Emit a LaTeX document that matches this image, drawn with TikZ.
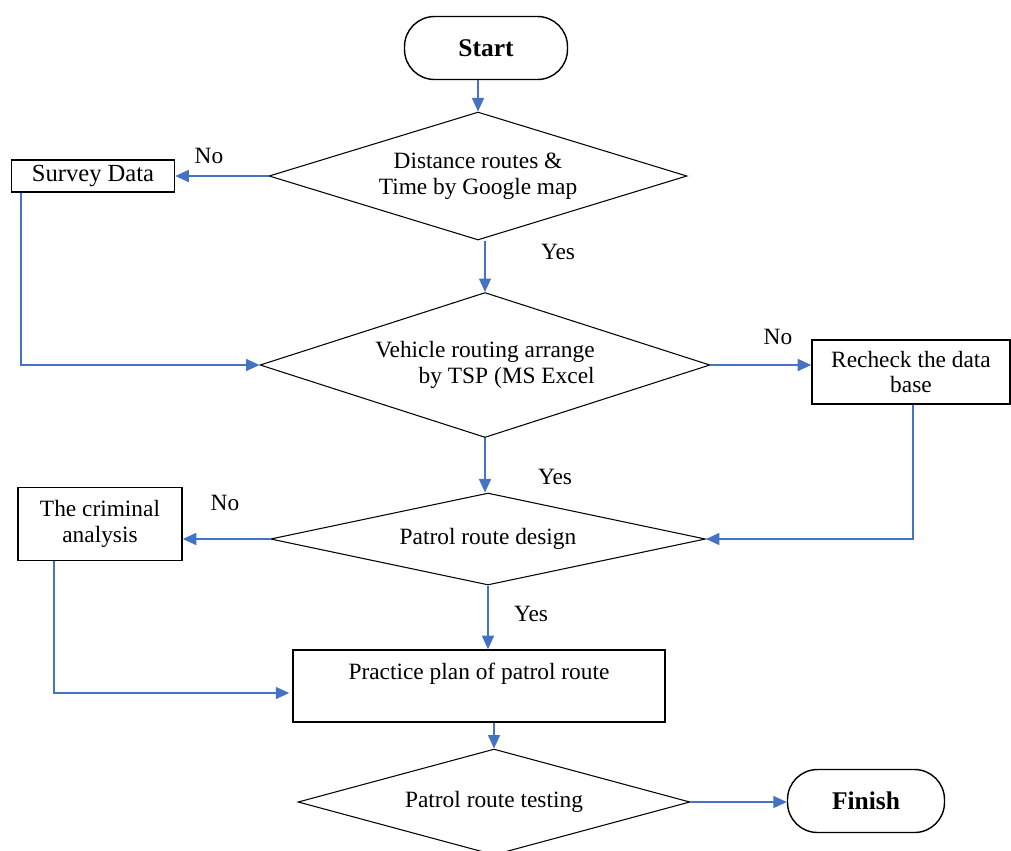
\documentclass[tikz,border=0pt]{standalone}
\usepackage{fontspec}
\setmainfont{Liberation Serif}
\usepackage{tikz}
\usetikzlibrary{calc}
\usetikzlibrary{positioning}
\usetikzlibrary{shapes.geometric}
\usetikzlibrary{arrows.meta}
\definecolor{flowblue}{RGB}{68,114,196}

\begin{document}
\begin{tikzpicture}[x=0.02cm, y=-0.02cm,
        every node/.style={font=\fontsize{13.3}{14.7}\selectfont},
        terminal/.style={draw, line width=0.8pt, rounded corners=0.6cm,
            minimum width=#1, minimum height=1.26cm, font=\fontsize{14.5}{16}\selectfont\bfseries},
        decision/.style={draw, diamond, line width=0.6pt, aspect=3, inner sep=1pt, align=center},
        process/.style={draw, rectangle, line width=0.9pt, inner sep=1pt, align=center},
        flow/.style={draw=flowblue, line width=0.9pt, -{Triangle[length=0.27cm, width=0.24cm]}}]

                \useasboundingbox (0,0) rectangle (1011,850);

                % Main column of the chart
                \node[terminal=3.26cm] (start) at (486, 48) {Start};
                \node[decision, minimum width=8.36cm, minimum height=2.56cm]
                    (dist) at (478, 176) {Distance routes \&\\Time by Google map};
                \node[decision, minimum width=9cm, minimum height=2.9cm, align=right]
                    (tsp) at (485, 365) {Vehicle routing arrange\\by TSP (MS Excel};
                \node[decision, minimum width=8.7cm, minimum height=1.84cm, aspect=4.7]
                    (design) at (488, 539) {Patrol route design};
                \node[process, minimum width=7.44cm, inner ysep=0pt,
                    text height=0.58cm, text depth=0.86cm]
                    (plan) at (479, 686) {Practice plan of patrol route};
                \node[decision, minimum width=7.84cm, minimum height=2.12cm, aspect=3.7]
                    (test) at (494, 802) {Patrol route testing};
                \node[terminal=3.14cm] (finish) at (866, 801) {Finish};

                % Side boxes
                \node[process, minimum width=3.26cm, minimum height=0.64cm,
                    font=\fontsize{14}{15}\selectfont]
                    (survey) at (93, 176) {Survey Data};
                \node[process, minimum width=3.96cm, minimum height=1.28cm]
                    (recheck) at (911, 372) {Recheck the data\\base};
                \node[process, minimum width=3.28cm, minimum height=1.46cm]
                    (criminal) at (100, 524) {The criminal\\analysis};

                % Branch labels
                \node (no1) at (209, 156) {No};
                \node (yes1) at (558, 252) {Yes};
                \node (no2) at (778, 337) {No};
                \node (yes2) at (555, 477) {Yes};
                \node (no3) at (225, 503) {No};
                \node (yes3) at (531, 614) {Yes};

                \begin{scope}
                    \draw[flow] (start.south -| dist.north) -- (dist.north);
                    \draw[flow] (dist.west) -- (survey.east);
                    \draw[flow] ($(survey.south west)+(10,0)$) |- (tsp.west);
                    \draw[flow] (dist.south -| tsp.north) -- (tsp.north);
                    \draw[flow] (tsp.east) -- (tsp.east -| recheck.west);
                    \draw[flow] ($(recheck.south)+(2,0)$) |- (design.east);
                    \draw[flow] (tsp.south) -- (tsp.south |- design.north);
                    \draw[flow] (design.west) -- (design.west -| criminal.east);
                    \draw[flow] ($(criminal.south west)+(37,0)$) |- ($(plan.west)+(-3,7)$);
                    \draw[flow] (design.south) -- (design.south |- plan.north);
                    \draw[flow] (plan.south -| test.north) -- (test.north);
                    \draw[flow] (test.east) -- (test.east -| finish.west);
                \end{scope}

\end{tikzpicture}
\end{document}
